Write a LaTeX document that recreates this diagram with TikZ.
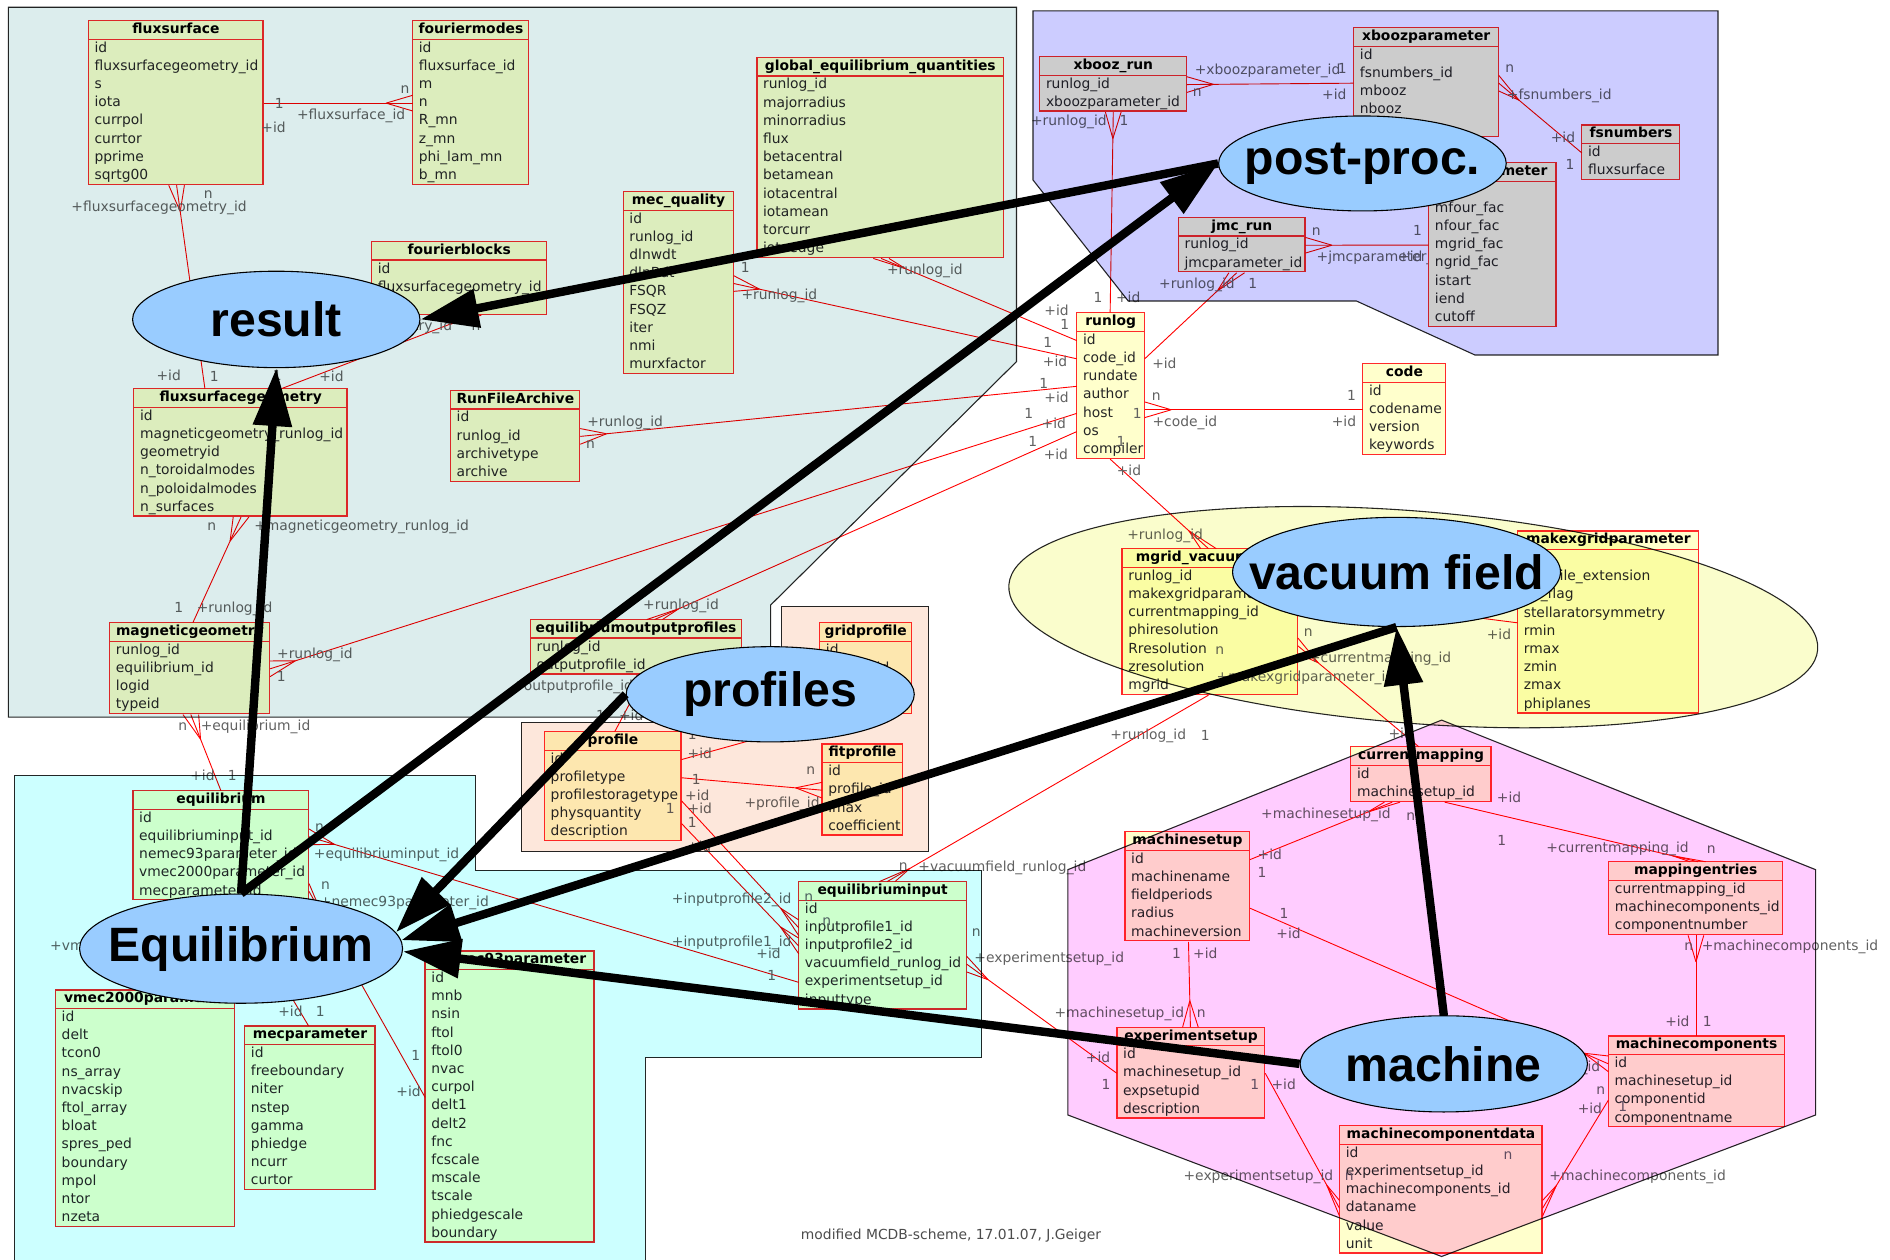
\documentclass[tikz,border=0pt]{standalone}
\usepackage{fontspec}
\setmainfont{DejaVu Sans}
\newfontfamily\ovalfont{Liberation Sans}
\usetikzlibrary{calc,shapes.geometric,arrows.meta}

\definecolor{tabfill}{HTML}{FFFFCC}
\definecolor{tabred}{HTML}{FF2A2A}
\definecolor{ovalblue}{HTML}{99CCFF}
\definecolor{regteal}{HTML}{DCEDED}
\definecolor{regcyan}{HTML}{CCFFFF}
\definecolor{reglav}{HTML}{CCCCFF}
\definecolor{regsalmon}{HTML}{FDE7DB}
\definecolor{regyellow}{HTML}{FAFDCC}
\definecolor{regpink}{HTML}{FFCCFF}

\tikzset{
  tabhead/.style={font=\fontsize{11.5}{13}\selectfont\bfseries, text=black, minimum height=15pt,
    inner sep=0pt, text height=8.7pt, text depth=2.7pt},
  tabrow/.style={font=\fontsize{11.5}{13}\selectfont, text=black!85, minimum height=15.1pt,
    inner xsep=5pt, inner ysep=0pt, text height=8.7pt, text depth=2.7pt, align=left},
  tabedge/.style={draw=tabred, line width=1.1pt},
  erline/.style={draw=red, line width=0.75pt},
  lbl/.style={font=\fontsize{11.5}{13}\selectfont, text=black!62, inner sep=0pt,
    text height=8.7pt, text depth=2.7pt},
  region/.style={line width=0.9pt, draw=black!85},
  oval/.style={ellipse, draw=black, line width=0.9pt, fill=ovalblue, inner sep=0pt},
  ovaltext/.style={font=\ovalfont\bfseries\fontsize{40}{40}\selectfont, inner sep=0pt},
  bigarrow/.style={line width=7pt, -{Triangle[length=48pt,width=31pt]}},
}

% table: name, x, y (top left), width, title, rows
\newcommand\dbtable[6]{%
  \foreach \r [count=\i] in {#6} {\xdef\dbn{\i}}%
  \pgfmathsetmacro\dbh{15+\dbn*15.1}%
  \pgfmathsetmacro\dbtw{#4-10}%
  \fill[tabfill] (#2,#3) rectangle ++(#4,\dbh);
  \node[tabhead, minimum width=#4pt, anchor=north west] (#1) at (#2,#3) {#5};
  \foreach \r [count=\i] in {#6} {
    \node[tabrow, text width=\dbtw pt, anchor=north west] (#1-\i)
      at ($(#1.south west)+(0,{(\i-1)*15.1})$) {\r};
  }
  \draw[tabedge] (#2,#3) rectangle ++(#4,\dbh);
  \draw[tabedge] (#1.south west) -- (#1.south east);
}
% relation, crow's foot on a left/right edge: #1 one end, #2 many end
\newcommand\erlr[2]{%
  \draw[erline] (#1) -- (#2);
  \draw[erline] ($(#2)!22pt!(#1)$) -- ($(#2)+(0,6.5)$)
                ($(#2)!22pt!(#1)$) -- ($(#2)+(0,-6.5)$);
}
% relation, crow's foot on a top/bottom edge
\newcommand\ertb[2]{%
  \draw[erline] (#1) -- (#2);
  \draw[erline] ($(#2)!22pt!(#1)$) -- ($(#2)+(6.5,0)$)
                ($(#2)!22pt!(#1)$) -- ($(#2)+(-6.5,0)$);
}

\begin{document}
\catcode`\_=12
\begin{tikzpicture}[x=1pt,y=-1pt]
\useasboundingbox (0,0) rectangle (1568,1045);
\fill[white] (0,0) rectangle (1568,1045);

% label partly covered by its table
\node[lbl] (ljmc) at (1146,213.7) {+jmcparameter_id};

% ---------------- tables ----------------
\dbtable{fs}{73.3}{17.1}{145}{fluxsurface}{id,fluxsurfacegeometry_id,s,iota,currpol,currtor,pprime,sqrtg00}
\dbtable{fm}{342.3}{17.1}{96.4}{fouriermodes}{id,fluxsurface_id,m,n,R_mn,z_mn,phi_lam_mn,b_mn}
\dbtable{geq}{627.9}{47.6}{204.4}{global_equilibrium_quantities}{runlog_id,majorradius,minorradius,flux,betacentral,betamean,iotacentral,iotamean,torcurr,iotaedge}
\dbtable{mq}{517}{159}{91.3}{mec_quality}{id,runlog_id,dlnwdt,dlnBdt,FSQR,FSQZ,iter,nmi,murxfactor}
\dbtable{fb}{308.3}{200.4}{145}{fourierblocks}{id,fluxsurfacegeometry_id,{}}
\dbtable{fsg}{111}{322.5}{177}{fluxsurfacegeometry}{id,magneticgeometry_runlog_id,geometryid,n_toroidalmodes,n_poloidalmodes,n_surfaces}
\dbtable{rfa}{373.7}{323.8}{107.3}{RunFileArchive}{id,runlog_id,archivetype,archive}
\dbtable{mg}{91}{516.6}{132.7}{magneticgeometry}{runlog_id,equilibrium_id,logid,typeid}
\dbtable{eop}{440}{514}{175}{equilibriumoutputprofiles}{runlog_id,outputprofile_id}
\dbtable{rl}{893.3}{259.4}{56}{runlog}{id,code_id,rundate,author,host,os,compiler}
\dbtable{code}{1130.6}{301.7}{68.7}{code}{id,codename,version,keywords}
\dbtable{xr}{862.6}{47}{121.7}{xbooz_run}{runlog_id,xboozparameter_id}
\dbtable{xp}{1123}{23}{120}{xboozparameter}{id,fsnumbers_id,mbooz,nbooz,{}}
\dbtable{jp}{1185.3}{134.9}{105.7}{jmcparameter}{id,mfour_fac,nfour_fac,mgrid_fac,ngrid_fac,istart,iend,cutoff}
\dbtable{fsn}{1312.3}{103.7}{81.3}{fsnumbers}{id,fluxsurface}
\dbtable{jr}{977.6}{180.3}{105}{jmc_run}{runlog_id,jmcparameter_id}
\dbtable{mv}{930.9}{455.2}{145.4}{mgrid_vacuumfield}{runlog_id,makexgridparameter_id,currentmapping_id,phiresolution,Rresolution,zresolution,mgrid}
\dbtable{mx}{1259}{440.5}{150.3}{makexgridparameter}{id,coilsfile_extension,fix_flag,stellaratorsymmetry,rmin,rmax,zmin,zmax,phiplanes}
\dbtable{gp}{680}{516.6}{76}{gridprofile}{id,profile_id,{},{}}
\dbtable{pr}{451.7}{607}{113.3}{profile}{id,profiletype,profilestoragetype,physquantity,description}
\dbtable{fp}{682}{617.3}{66.6}{fitprofile}{id,profile_id,imax,coefficient}
\dbtable{eq}{110.3}{656}{145.7}{equilibrium}{id,equilibriuminput_id,nemec93parameter_id,vmec2000parameter_id,mecparameter_id}
\dbtable{vp}{46}{821.3}{148.3}{vmec2000parameter}{id,delt,tcon0,ns_array,nvacskip,ftol_array,bloat,spres_ped,boundary,mpol,ntor,nzeta}
\dbtable{mp}{203}{851.1}{108}{mecparameter}{id,freeboundary,niter,nstep,gamma,phiedge,ncurr,curtor}
\dbtable{np}{352.7}{788.9}{140}{nemec93parameter}{id,mnb,nsin,ftol,ftol0,nvac,curpol,delt1,delt2,fnc,fcscale,mscale,tscale,phiedgescale,boundary}
\dbtable{ei}{662.6}{731.4}{139}{equilibriuminput}{id,inputprofile1_id,inputprofile2_id,vacuumfield_runlog_id,experimentsetup_id,inputtype}
\dbtable{cm}{1120.6}{619.5}{116.4}{currentmapping}{id,machinesetup_id}
\dbtable{ms}{933.3}{690}{103.3}{machinesetup}{id,machinename,fieldperiods,radius,machineversion}
\dbtable{me}{1334.6}{714.9}{144}{mappingentries}{currentmapping_id,machinecomponents_id,componentnumber}
\dbtable{es}{926.6}{852.2}{122.7}{experimentsetup}{id,machinesetup_id,expsetupid,description}
\dbtable{mc}{1334.3}{859.4}{146}{machinecomponents}{id,machinesetup_id,componentid,componentname}
\dbtable{md}{1111.3}{934}{168}{machinecomponentdata}{id,experimentsetup_id,machinecomponents_id,dataname,value,unit}

% ---------------- relations ----------------
\erlr{fs-4.east}{fm-4.west}
\coordinate (c2a) at ($(fsg.north west)+(59,0)$);
\coordinate (c2b) at ($(fs-8.south west)+(73.2,0)$);
\ertb{c2a}{c2b}
\coordinate (c3a) at ($(fsg.north west)+(122.3,0)$);
\coordinate (c3b) at ($(fb-3.south west)+(84.5,0)$);
\ertb{c3a}{c3b}
\coordinate (c4a) at ($(mg.north west)+(69,0)$);
\coordinate (c4b) at ($(fsg-6.south west)+(89,0)$);
\ertb{c4a}{c4b}
\coordinate (c5b) at ($(geq-10.south west)+(103.1,0)$);
\ertb{rl-1.west}{c5b}
\erlr{rl-2.west}{mq-4.south east}
\erlr{rl-3.south west}{rfa-2.east}
\erlr{rl-5.west}{mg-2.east}
\coordinate (c9b) at ($(eop.north west)+(103,0)$);
\ertb{rl-6.west}{c9b}
\coordinate (c10a) at ($(rl.north west)+(27.7,0)$);
\coordinate (c10b) at ($(xr-2.south west)+(61,0)$);
\ertb{c10a}{c10b}
\coordinate (c11b) at ($(jr-2.south west)+(48.4,0)$);
\ertb{rl-2.east}{c11b}
\coordinate (c12b) at (rl-5.east |- code-2.west);
\erlr{code-2.west}{c12b}
\coordinate (c13a) at ($(rl-7.south west)+(27.7,0)$);
\coordinate (c13b) at ($(mv.north west)+(71.7,0)$);
\ertb{c13a}{c13b}
\coordinate (c14a) at ($(mv-7.south west)+(71.7,0)$);
\coordinate (c14b) at ($(ei.north west)+(73.4,0)$);
\ertb{c14a}{c14b}
\erlr{mx-4.south west}{mv-2.east}
\coordinate (c15a) at ($(cm.north west)+(56.4,0)$);
\coordinate (c15b) at ($(mv-5.east)+(0,-3)$);
\erlr{c15a}{c15b}
\coordinate (c16b) at ($(cm-2.south west)+(34.4,0)$);
\ertb{ms-1.east}{c16b}
\coordinate (c17a) at ($(cm-2.south west)+(78,0)$);
\coordinate (c17b) at ($(me.north west)+(74,0)$);
\ertb{c17a}{c17b}
\coordinate (c18a) at ($(mc.north west)+(72.7,0)$);
\coordinate (c18b) at ($(me-3.south west)+(72.4,0)$);
\ertb{c18a}{c18b}
\coordinate (c19a) at ($(ms-5.south west)+(52.7,0)$);
\coordinate (c19b) at ($(es.north west)+(61,0)$);
\ertb{c19a}{c19b}
\coordinate (c20a) at ($(ms-4.east)+(0,-5)$);
\erlr{c20a}{mc-1.west}
\erlr{mc-3.west}{md-4.east}
\erlr{es-2.east}{md-4.west}
\erlr{es-2.west}{ei-4.east}
\coordinate (c24a) at ($(eq.north west)+(73,0)$);
\coordinate (c24b) at ($(mg-4.south west)+(67.3,0)$);
\ertb{c24a}{c24b}
\erlr{ei-5.west}{eq-2.east}
\erlr{np-7.south west}{eq-5.east}
\coordinate (c27a) at ($(mp.north west)+(53,0)$);
\coordinate (c27b) at ($(eq-5.south west)+(84,0)$);
\ertb{c27a}{c27b}
\coordinate (c28a) at ($(vp.north west)+(74,0)$);
\coordinate (c28b) at ($(eq-5.south west)+(40,0)$);
\ertb{c28a}{c28b}
\coordinate (c29a) at ($(pr.north west)+(58.3,0)$);
\coordinate (c29b) at ($(eop-2.south west)+(95,0)$);
\ertb{c29a}{c29b}
\erlr{pr-2.east}{fp-2.west}
\coordinate (c31b) at ($(gp-4.south west)+(20,0)$);
\ertb{pr-1.east}{c31b}
\coordinate (c32a) at ($(pr-3.east)+(0,4)$);
\erlr{c32a}{ei-2.west}
\erlr{pr-4.south east}{ei-3.west}
\erlr{xp-2.south west}{xr-1.east}
\erlr{fsn-1.west}{xp-2.south east}
\erlr{jp-4.west}{jr-1.east}

% ---------------- relation labels ----------------
\foreach \x/\y/\t [count=\k] in {
 231.7/87/1, 227/107/+id, 336/74.6/n, 291.3/96.2/+fluxsurface_id,
 172.7/161.8/n, 132/172.8/+fluxsurfacegeometry_id, 140/312.5/+id, 177.7/313.3/1,
 230/312.5/1, 275/313.3/+id, 302.3/271/+fluxsurfacegeometry_id, 395/271/n,
 175.7/437.5/n, 300/437.5/+magneticgeometry_runlog_id, 148.3/505.5/1, 194.6/505.5/+runlog_id,
 767.3/224.5/+runlog_id, 876.6/258.6/+id, 883.3/270.5/1,
 618.3/223.4/1, 646.6/245.5/+runlog_id, 869.3/285.7/1, 875.3/301.4/+id,
 518.6/351.2/+runlog_id, 490/369.2/n, 865.9/319.4/1, 876.6/331.3/+id,
 261.3/543.4/+runlog_id, 233.3/562/1, 853.6/344.3/1, 874.3/352.6/+id,
 565/502.7/+runlog_id, 856.9/367.8/1, 876/378/+id,
 886.8/101/+runlog_id, 932.6/101/1, 911/248.3/1, 936/248.3/+id,
 993/236.4/+runlog_id, 1039.3/236.4/1, 966/302.8/+id,
 959.3/329.1/n, 943.6/344.3/1, 983/350.7/+code_id, 1121.3/329.1/1, 1115/350.7/+id,
 930/367.2/1, 936.6/391.3/+id, 966.6/444.4/+runlog_id,
 952.6/610.6/+runlog_id, 1000/611.2/1, 749.3/719/n, 831.6/720.4/+vacuumfield_runlog_id,
 1085.3/524.9/n, 1145/547/+currentmapping_id, 1012/539.8/n, 1083/562/+makexgridparameter_id,
 1243.6/527.4/+id, 1162/609.8/+id,
 1100/676.2/+machinesetup_id, 1170.3/678/n, 1053.5/709.9/+id, 1047/725/1,
 1252/663/+id, 1246/698.3/1, 1342/704.3/+currentmapping_id, 1419.6/705.2/n,
 1401/785.9/n, 1485/785.9/+machinecomponents_id, 1391.6/848.4/+id, 1416.3/848.4/1,
 976/792.2/1, 1000/792.2/+id, 928.6/841.2/+machinesetup_id, 996.6/841.2/n,
 1065.3/759.1/1, 1069/775.6/+id, 1273.8/886/+machinesetup_id,
 1328/904.8/n, 1319/920.8/+id, 1346.3/919.4/1, 1358.6/976.1/+machinecomponents_id, 1251/959/n,
 1065/900.6/+id, 1041/900.6/1, 1044/976.1/+experimentsetup_id, 1119.3/976.7/n,
 810/774.3/n, 870.5/795.6/+experimentsetup_id, 911/878.8/+id, 917.6/900.6/1,
 151.7/603.4/n, 212/603.4/+equilibrium_id, 168/644.9/+id, 192.7/644.9/1,
 265/687.2/n, 320.7/709.3/+equilibriuminput_id, 637.6/792.2/+id, 640.3/810.8/1,
 270/735/n, 335.5/749.4/+nemec93parameter_id, 345/877.1/1, 339/906.4/+id,
 241/840/+id, 265.7/840/1,
 115.3/785.3/+vmec2000parameter_id,
 475/569.7/+outputprofile_id, 498.3/595.1/1, 523.7/595/+id,
 672.6/639.4/n, 648.8/667.3/+profile_id, 577.6/647.7/1, 578.5/661/+id,
 574.3/610.3/1, 580.6/626.4/+id,
 556/672/1, 580.6/672/+id, 574.3/683.1/1, 580/703.8/+id,
 607/746.7/+inputprofile2_id, 671/745.3/n, 607/782/+inputprofile1_id, 686/764.6/n,
 1051.6/58.6/+xboozparameter_id, 993.3/76.9/n, 1113.6/58.1/1, 1107/79.3/+id,
 1252.6/57.5/n, 1293.6/79.3/+fsnumbers_id, 1296.7/115.6/+id, 1302.6/137.4/1,
 1092/192.2/n, 1176/192.2/1, 1170/213.7/+id}
 { \node[lbl] (lab\k) at (\x,\y) {\t}; }

\node[lbl, text=black!70] (footer) at (789,1025) {modified MCDB-scheme, 17.01.07, J.Geiger};

% ---------------- grouping areas (multiplied over the tables) ----------------
\begin{scope}[blend mode=multiply]
  \filldraw[region, fill=regteal] (7,6) -- (843.3,6) -- (843.3,300) -- (639.3,502)
     -- (639.3,595) -- (7,595) -- cycle;
  \filldraw[region, fill=regsalmon] (648.6,503) -- (770.3,503) -- (770.3,706.6)
     -- (432.3,706.6) -- (432.3,599.6) -- (648.6,599.6) -- cycle;
  \filldraw[region, fill=regcyan] (12.3,643.5) -- (394.3,643.5) -- (394.3,721.8)
     -- (814.6,721.8) -- (814.6,877.4) -- (535.3,877.4) -- (535.3,1050) -- (12.3,1050) -- cycle;
  \filldraw[region, fill=reglav] (857,9) -- (1425.3,9) -- (1425.3,294.5) -- (1223.6,294.5)
     -- (1125.3,249.7) -- (936,249.7) -- (857,149.3) -- cycle;
  \filldraw[region, fill=regyellow, rotate around={-4.6:(1172.5,512)}]
     (1172.5,512) ellipse [x radius=336.6, y radius=88];
  \filldraw[region, fill=regpink] (1196,597.4) -- (1506.3,721.5) -- (1506.3,925)
     -- (1196,1042.4) -- (885.9,925) -- (885.9,721.5) -- cycle;
\end{scope}

% ---------------- topic ovals ----------------
\node[oval, minimum width=238.4pt, minimum height=80pt] (result) at (229.2,265) {};
\node[ovaltext] (resulttext) at (result.center) {result};
\node[oval, minimum width=238.6pt, minimum height=78.8pt] (postproc) at (1130.3,135.6) {};
\node[ovaltext] (postproctext) at (postproc.center) {post-proc.};
\node[oval, minimum width=239pt, minimum height=79pt] (profiles) at (639,576) {};
\node[ovaltext] (profilestext) at (profiles.center) {profiles};
\node[oval, minimum width=272pt, minimum height=90.6pt] (vacuum) at (1158.6,474.5) {};
\node[ovaltext] (vacuumtext) at (vacuum.center) {vacuum field};
\node[oval, minimum width=268pt, minimum height=90.6pt] (eqoval) at (200,787) {};
\node[ovaltext] (eqovaltext) at (eqoval.center) {Equilibrium};
\node[oval, minimum width=238.4pt, minimum height=79.8pt] (machine) at (1197.8,882.6) {};
\node[ovaltext] (machinetext) at (machine.center) {machine};

% ---------------- data flow ----------------
\draw[bigarrow] (eqoval.north) -- (result.south);
\draw[bigarrow] (eqoval.north) -- (postproc.west);
\draw[bigarrow] (postproc.west) -- (result.east);
\draw[bigarrow] (profiles.west) -- (eqoval.6);
\draw[bigarrow] (vacuum.south) -- (eqoval.3);
\draw[bigarrow] (machine.west) -- (eqoval.359);
\draw[bigarrow] (machine.north) -- (vacuum.south);
\end{tikzpicture}
\end{document}
